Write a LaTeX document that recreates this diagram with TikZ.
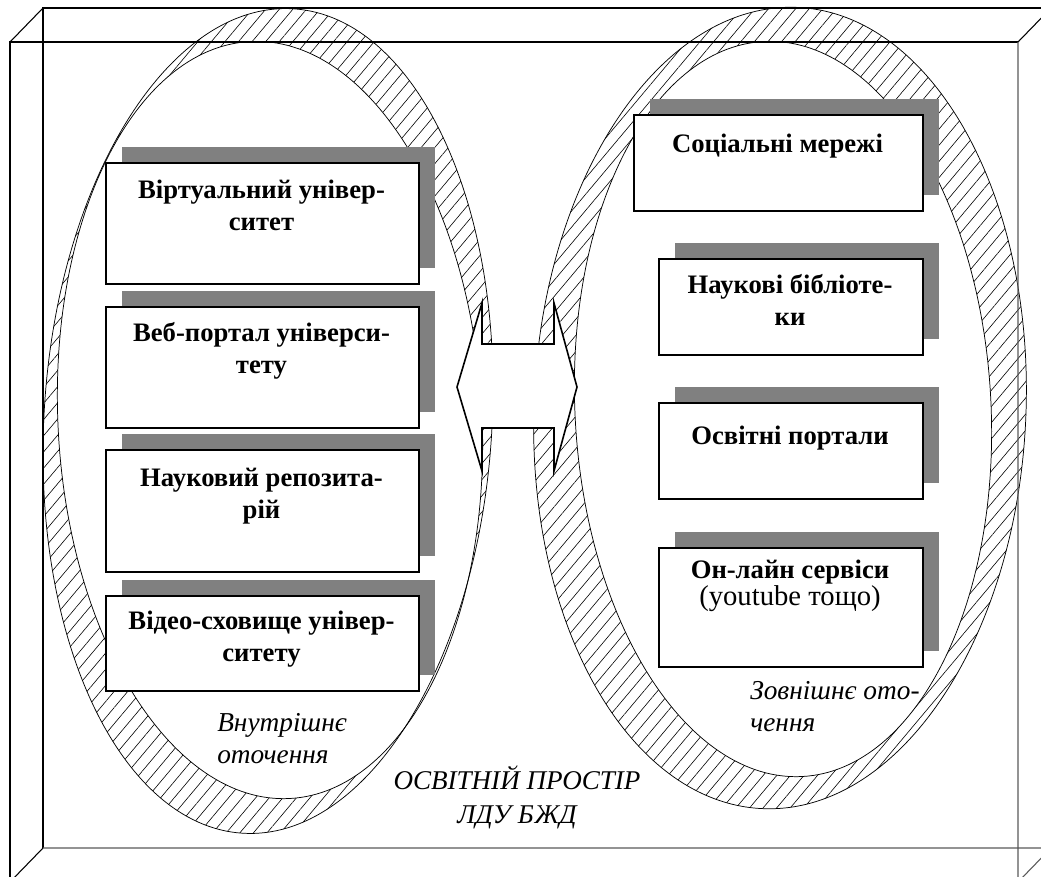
\documentclass[tikz,border=0pt]{standalone}
\usepackage{fontspec}
\setmainfont{Liberation Serif}
\usetikzlibrary{patterns.meta,shadows}
\newcommand\mytightlines{\lineskiplimit-30pt\relax}
\begin{document}
\begin{tikzpicture}[x=0.75pt,y=-0.75pt,
  frameline/.style={line width=0.8pt,draw=black},
  framegray/.style={line width=0.8pt,draw=black!65},
  hatch/.style={pattern={Lines[angle=50,distance=7.8pt,line width=0.45pt]}},
  ringline/.style={line width=0.55pt,draw=black},
  infobox/.style={draw=black,line width=1.2pt,fill=white,inner sep=0pt,anchor=north west,
    drop shadow={shadow xshift=12pt,shadow yshift=12pt,fill=black!50,opacity=1}},
  btext/.style={font=\fontsize{20pt}{24pt}\selectfont\bfseries,align=center,anchor=base,inner sep=0pt},
  itext/.style={font=\fontsize{20.5pt}{24pt}\selectfont\itshape,align=left,anchor=base west,inner sep=0pt},
  arrowshape/.style={draw=black,line width=1.2pt,fill=white,line join=miter}
]
\useasboundingbox (0,0) rectangle (1041,876);
\clip (0,0) rectangle (1041,876);

% hatched rings
\fill[hatch,rotate around={-3.5:(268,421)}] (268,421) ellipse [x radius=224,y radius=413];
\fill[white,rotate around={3:(270,420)}] (270,420) ellipse [x radius=212,y radius=379];
\draw[ringline,rotate around={-3.5:(268,421)}] (268,421) ellipse [x radius=224,y radius=413];
\draw[ringline,rotate around={3:(270,420)}] (270,420) ellipse [x radius=212,y radius=379];

\fill[hatch,rotate around={-2.5:(780,408)}] (780,408) ellipse [x radius=246,y radius=401];
\fill[white,rotate around={3:(783,409)}] (783,409) ellipse [x radius=208,y radius=368];
\draw[ringline,rotate around={-2.5:(780,408)}] (780,408) ellipse [x radius=246,y radius=401];
\draw[ringline,rotate around={3:(783,409)}] (783,409) ellipse [x radius=208,y radius=368];

% 3D frame
\coordinate (fa) at (10,42);   \coordinate (fb) at (1018,42);
\coordinate (fc) at (1018,882); \coordinate (fd) at (10,882);
\coordinate (ba) at (43,8);    \coordinate (bb) at (1051,8);
\coordinate (bc) at (1051,848); \coordinate (bd) at (43,848);
\draw[frameline] (bd) -- (ba) -- (bb);
\draw[frameline] (fd) -- (fa) -- (fb);
\draw[frameline] (fa) -- (ba) (fb) -- (bb) (fd) -- (bd);
\draw[framegray] (fb) -- (fc) (bd) -- (bc) (fc) -- (bc) (bb) -- (bc);

% left boxes
\node[infobox,minimum width=234.75pt,minimum height=90.75pt] (b1) at (105,162) {};
\node[infobox,minimum width=234.75pt,minimum height=90.75pt] (b2) at (105,306) {};
\node[infobox,minimum width=234.75pt,minimum height=91.5pt] (b3) at (105,449) {};
\node[infobox,minimum width=234.75pt,minimum height=71.25pt] (b4) at (105,595) {};
% right boxes
\node[infobox,minimum width=216.75pt,minimum height=72pt] (r1) at (633,114) {};
\node[infobox,minimum width=198pt,minimum height=72pt] (r2) at (658,258) {};
\node[infobox,minimum width=198pt,minimum height=72pt] (r3) at (658,402) {};
\node[infobox,minimum width=198pt,minimum height=89.25pt] (r4) at (658,547) {};

% texts (anchor base = baseline of last line)
\node[btext] (t1) at (261.5,230) {Віртуальний універ-\\ситет};
\node[btext] (t2) at (261.5,373) {Веб-портал універси-\\тету};
\node[btext] (t3) at (261.5,518) {Науковий репозита-\\рій};
\node[btext] (t4) at (261.5,661) {Відео-сховище універ-\\ситету};
\node[btext] (s1) at (777.5,152) {Соціальні мережі};
\node[btext] (s2) at (790,325) {Наукові бібліоте-\\ки};
\node[btext] (s3) at (790,444) {Освітні портали};
\node[btext,font=\fontsize{20pt}{20pt}\selectfont\mytightlines\bfseries] (s4) at (790,605)
  {Он-лайн сервіси\\{\mdseries\fontsize{21.5pt}{20pt}\selectfont (youtube тощо)}};

% double arrow
\draw[arrowshape] (457,387) -- (482,303) -- (482,344) -- (554,344) -- (554,303) -- (577,387)
  -- (554,471) -- (554,428) -- (482,428) -- (482,471) -- cycle;

% labels
\node[itext] (inner) at (217,763) {Внутрішнє\\оточення};
\node[itext] (outer) at (750,731) {Зовнішнє ото-\\чення};
\node[itext,align=center,anchor=base,font=\fontsize{20.3pt}{25.5pt}\selectfont\itshape] (space) at (517,823) {ОСВІТНІЙ ПРОСТІР\\ЛДУ БЖД};
\end{tikzpicture}
\end{document}
